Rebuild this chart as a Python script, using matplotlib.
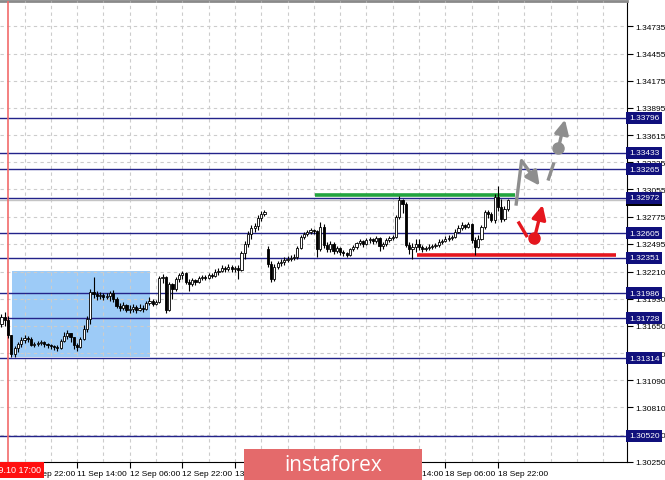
import matplotlib.pyplot as plt
import matplotlib.patches as mpatches
from matplotlib.transforms import blended_transform_factory
import numpy as np

# H1 candles, bar 0 = 10 Sep 15:00 (weekend removed, bar 81 = Monday open)
OPENS = [
    1.31670, 1.31742, 1.31711, 1.31556, 1.31361, 1.31422, 1.31464, 1.31505, 1.31525, 1.31515,
    1.31453, 1.31464, 1.31474, 1.31484, 1.31464, 1.31453, 1.31443, 1.31433, 1.31422, 1.31494,
    1.31546, 1.31577, 1.31536, 1.31453, 1.31433, 1.31515, 1.31618, 1.31721, 1.31999, 1.31979,
    1.31958, 1.31968, 1.31948, 1.31958, 1.31989, 1.31927, 1.31855, 1.31834, 1.31865, 1.31814,
    1.31824, 1.31845, 1.31814, 1.31834, 1.31824, 1.31886, 1.31906, 1.31876, 1.31896, 1.32143,
    1.32154, 1.31814, 1.32082, 1.32030, 1.32133, 1.32174, 1.32195, 1.32102, 1.32082, 1.32123,
    1.32102, 1.32143, 1.32154, 1.32143, 1.32174, 1.32164, 1.32205, 1.32215, 1.32246, 1.32236,
    1.32257, 1.32236, 1.32246, 1.32226, 1.32401, 1.32494, 1.32597, 1.32658, 1.32679, 1.32761,
    1.32803, 1.32442, 1.32288, 1.32133, 1.32257, 1.32298, 1.32308, 1.32329, 1.32339, 1.32349,
    1.32360, 1.32452, 1.32566, 1.32597, 1.32617, 1.32638, 1.32627, 1.32442, 1.32669, 1.32483,
    1.32442, 1.32494, 1.32421, 1.32452, 1.32411, 1.32401, 1.32380, 1.32442, 1.32463, 1.32504,
    1.32524, 1.32494, 1.32535, 1.32545, 1.32524, 1.32555, 1.32473, 1.32494, 1.32535, 1.32555,
    1.32566, 1.32772, 1.32947, 1.32906, 1.32483, 1.32442, 1.32463, 1.32494, 1.32463, 1.32442,
    1.32452, 1.32463, 1.32473, 1.32483, 1.32514, 1.32524, 1.32545, 1.32555, 1.32566, 1.32617,
    1.32658, 1.32689, 1.32669, 1.32700, 1.32535, 1.32463, 1.32545, 1.32669, 1.32823, 1.32803,
    1.32741, 1.32978, 1.32875, 1.32751, 1.32854,
]
HIGHS = [
    1.31773, 1.31793, 1.31752, 1.31556, 1.31443, 1.31484, 1.31536, 1.31556, 1.31546, 1.31536,
    1.31484, 1.31494, 1.31505, 1.31494, 1.31474, 1.31464, 1.31453, 1.31453, 1.31515, 1.31587,
    1.31608, 1.31577, 1.31536, 1.31474, 1.31536, 1.31659, 1.31752, 1.32030, 1.32154, 1.32009,
    1.31999, 1.31989, 1.31989, 1.32009, 1.32020, 1.31948, 1.31886, 1.31896, 1.31876, 1.31865,
    1.31876, 1.31865, 1.31876, 1.31865, 1.31906, 1.31948, 1.31927, 1.31917, 1.32164, 1.32185,
    1.32164, 1.32102, 1.32092, 1.32154, 1.32195, 1.32215, 1.32205, 1.32133, 1.32143, 1.32133,
    1.32164, 1.32174, 1.32174, 1.32195, 1.32195, 1.32236, 1.32246, 1.32277, 1.32267, 1.32288,
    1.32277, 1.32267, 1.32277, 1.32421, 1.32524, 1.32627, 1.32689, 1.32710, 1.32792, 1.32833,
    1.32844, 1.32473, 1.32318, 1.32288, 1.32318, 1.32339, 1.32360, 1.32370, 1.32380, 1.32391,
    1.32473, 1.32586, 1.32617, 1.32638, 1.32658, 1.32648, 1.32638, 1.32720, 1.32700, 1.32514,
    1.32524, 1.32514, 1.32473, 1.32463, 1.32432, 1.32411, 1.32452, 1.32483, 1.32514, 1.32545,
    1.32535, 1.32555, 1.32566, 1.32555, 1.32576, 1.32566, 1.32514, 1.32555, 1.32576, 1.32586,
    1.32792, 1.32988, 1.32957, 1.32926, 1.32514, 1.32504, 1.32545, 1.32545, 1.32483, 1.32473,
    1.32494, 1.32494, 1.32504, 1.32545, 1.32545, 1.32576, 1.32586, 1.32586, 1.32648, 1.32689,
    1.32720, 1.32700, 1.32720, 1.32710, 1.32566, 1.32586, 1.32689, 1.32844, 1.32844, 1.32823,
    1.33009, 1.33091, 1.32957, 1.32885, 1.32957,
]
LOWS = [
    1.31639, 1.31649, 1.31525, 1.31330, 1.31330, 1.31381, 1.31433, 1.31474, 1.31484, 1.31443,
    1.31433, 1.31443, 1.31453, 1.31433, 1.31422, 1.31412, 1.31402, 1.31391, 1.31412, 1.31484,
    1.31515, 1.31484, 1.31412, 1.31391, 1.31422, 1.31505, 1.31587, 1.31670, 1.31937, 1.31917,
    1.31927, 1.31917, 1.31927, 1.31906, 1.31896, 1.31834, 1.31803, 1.31814, 1.31793, 1.31783,
    1.31793, 1.31783, 1.31803, 1.31793, 1.31814, 1.31865, 1.31855, 1.31865, 1.31886, 1.32092,
    1.31783, 1.31803, 1.31927, 1.32009, 1.32102, 1.32133, 1.32082, 1.32009, 1.32061, 1.32071,
    1.32092, 1.32123, 1.32123, 1.32133, 1.32143, 1.32154, 1.32174, 1.32205, 1.32205, 1.32215,
    1.32205, 1.32205, 1.32133, 1.32215, 1.32339, 1.32463, 1.32545, 1.32617, 1.32638, 1.32730,
    1.32782, 1.32257, 1.32102, 1.32112, 1.32236, 1.32267, 1.32277, 1.32308, 1.32318, 1.32329,
    1.32339, 1.32442, 1.32545, 1.32576, 1.32597, 1.32597, 1.32360, 1.32421, 1.32452, 1.32411,
    1.32411, 1.32391, 1.32401, 1.32380, 1.32370, 1.32360, 1.32370, 1.32421, 1.32442, 1.32483,
    1.32463, 1.32483, 1.32504, 1.32494, 1.32504, 1.32421, 1.32442, 1.32473, 1.32514, 1.32535,
    1.32555, 1.32751, 1.32813, 1.32463, 1.32391, 1.32339, 1.32411, 1.32432, 1.32411, 1.32421,
    1.32432, 1.32442, 1.32452, 1.32463, 1.32494, 1.32514, 1.32524, 1.32535, 1.32555, 1.32607,
    1.32638, 1.32648, 1.32658, 1.32504, 1.32380, 1.32452, 1.32535, 1.32648, 1.32761, 1.32720,
    1.32710, 1.32833, 1.32720, 1.32730, 1.32833,
]
CLOSES = [
    1.31742, 1.31711, 1.31556, 1.31361, 1.31422, 1.31464, 1.31505, 1.31525, 1.31515, 1.31453,
    1.31464, 1.31474, 1.31484, 1.31464, 1.31453, 1.31443, 1.31433, 1.31422, 1.31494, 1.31546,
    1.31577, 1.31536, 1.31453, 1.31433, 1.31515, 1.31618, 1.31721, 1.31999, 1.31979, 1.31958,
    1.31968, 1.31948, 1.31958, 1.31989, 1.31927, 1.31855, 1.31834, 1.31865, 1.31814, 1.31824,
    1.31845, 1.31814, 1.31834, 1.31824, 1.31886, 1.31906, 1.31876, 1.31896, 1.32143, 1.32154,
    1.31814, 1.32082, 1.32030, 1.32133, 1.32174, 1.32195, 1.32102, 1.32082, 1.32123, 1.32102,
    1.32143, 1.32154, 1.32143, 1.32174, 1.32164, 1.32205, 1.32215, 1.32246, 1.32236, 1.32257,
    1.32236, 1.32246, 1.32226, 1.32401, 1.32494, 1.32597, 1.32658, 1.32679, 1.32761, 1.32803,
    1.32823, 1.32288, 1.32133, 1.32257, 1.32298, 1.32308, 1.32329, 1.32339, 1.32349, 1.32360,
    1.32452, 1.32566, 1.32597, 1.32617, 1.32638, 1.32627, 1.32442, 1.32669, 1.32483, 1.32442,
    1.32494, 1.32421, 1.32452, 1.32411, 1.32401, 1.32380, 1.32442, 1.32463, 1.32504, 1.32524,
    1.32494, 1.32535, 1.32545, 1.32524, 1.32555, 1.32473, 1.32494, 1.32535, 1.32555, 1.32566,
    1.32772, 1.32947, 1.32906, 1.32483, 1.32442, 1.32463, 1.32494, 1.32463, 1.32442, 1.32452,
    1.32463, 1.32473, 1.32483, 1.32514, 1.32524, 1.32545, 1.32555, 1.32566, 1.32617, 1.32658,
    1.32689, 1.32669, 1.32700, 1.32535, 1.32463, 1.32545, 1.32669, 1.32823, 1.32803, 1.32741,
    1.32978, 1.32875, 1.32751, 1.32854, 1.32951,
]

LEVELS = [1.33796, 1.33433, 1.33265, 1.32972, 1.32605, 1.32351,
          1.31986, 1.31728, 1.31314, 1.30520]
LAST_PRICE = 1.32951
PRICE_TICKS = [1.30250, 1.30530, 1.30810, 1.31090, 1.31370, 1.31650, 1.31930,
               1.32210, 1.32495, 1.32775, 1.33055, 1.33335, 1.33615, 1.33895,
               1.34175, 1.34455, 1.34735]
TIME_BARS = [7, 23, 39, 55, 71, 87, 103, 119, 135, 151]
TIME_LABELS = ["10 Sep 22:00", "11 Sep 14:00", "12 Sep 06:00", "12 Sep 22:00",
               "13 Sep 14:00", "16 Sep 06:00", "16 Sep 22:00", "17 Sep 14:00",
               "18 Sep 06:00", "18 Sep 22:00"]
MARK_BAR = 2
MARK_LABEL = "2019.09.10 17:00"

# range box (bars, prices), resistance / support segments
ZONE_BARS = (3.2, 45.2)
ZONE_PRICES = (1.31330, 1.32215)
RESIST_BARS = (95.4, 156.2)
RESIST_PRICE = 1.32993
SUPPORT_BARS = (126.4, 186.9)
SUPPORT_PRICE = 1.32376

# forecast scribbles
GRAY_UP = [(156.5, 1.32888), (158.2, 1.33352)]
GRAY_DOWN_END = (163.7, 1.33094)
GRAY_DASH = [(166.4, 1.33163), (167.9, 1.33317)]
GRAY_DOT = (169.4, 1.33479)
GRAY_TARGET = (171.4, 1.33774)
RED_DASH = [(157.4, 1.32710), (159.7, 1.32579)]
RED_DOT = (162.1, 1.32552)
RED_TARGET = (164.6, 1.32895)

NAVY = "#23238a"
NAVY_BOX = "#10107c"
GRAY = "#8e8e8e"
RED = "#e5161e"
GREEN = "#22a43e"

plt.rcParams["font.family"] = "Liberation Sans"

fig = plt.figure(figsize=(6.65, 4.81), dpi=100)
ax = fig.add_axes([0, 18 / 481, 627 / 665, 461 / 481])
ax.set_xlim(-0.456, 190.27)
ax.set_ylim(1.30248, 1.34996)

# grid
ax.set_axisbelow(False)
ax.set_xticks(TIME_BARS)
ax.set_xticklabels(TIME_LABELS)
ax.set_xticks(np.arange(7, 191, 8), minor=True)
ax.tick_params(axis="x", which="minor", length=0)
ax.tick_params(axis="x", which="major", length=4, width=0.8, labelsize=6, pad=1.5)
for lbl in ax.get_xticklabels():
    lbl.set_horizontalalignment("left")
ax.yaxis.tick_right()
ax.set_yticks(PRICE_TICKS)
ax.set_yticklabels([f"{p:.5f}" for p in PRICE_TICKS])
ax.tick_params(axis="y", length=4, width=0.8, labelsize=6, pad=2)
ax.grid(True, which="both", axis="x", ls=(0, (3, 3)), color="#cccccc", lw=0.8)
ax.grid(True, which="major", axis="y", ls=(0, (3, 3)), color="#cccccc", lw=0.8)

ax.spines["left"].set_visible(False)
ax.spines["top"].set_color("#8a8a8a")
ax.spines["top"].set_linewidth(2)
ax.spines["right"].set_linewidth(0.8)
ax.spines["bottom"].set_linewidth(0.8)

# range box
ax.add_patch(mpatches.Rectangle((ZONE_BARS[0], ZONE_PRICES[0]),
                                ZONE_BARS[1] - ZONE_BARS[0],
                                ZONE_PRICES[1] - ZONE_PRICES[0],
                                fc="#9dcbf7", ec="none", zorder=1))

# horizontal levels
for lv in LEVELS:
    ax.axhline(lv, color=NAVY, lw=1, zorder=3)
ax.axhline(LAST_PRICE, color="#c4c4c4", lw=1, zorder=2.8)
ax.axvline(MARK_BAR, color="#f26b6b", lw=1.2, zorder=3)

ax.hlines(RESIST_PRICE, *RESIST_BARS, color=GREEN, lw=2.6, zorder=3.5)
ax.hlines(SUPPORT_PRICE, *SUPPORT_BARS, color=RED, lw=2.6, zorder=3.5)

# candles
o = np.array(OPENS); h = np.array(HIGHS); l = np.array(LOWS); c = np.array(CLOSES)
idx = np.arange(len(c))
ax.vlines(idx, l, h, color="black", lw=0.8, zorder=4)
bottoms = np.minimum(o, c)
heights = np.maximum(np.abs(c - o), 0.00003)
colors = ["white" if cc >= oo else "black" for oo, cc in zip(o, c)]
ax.bar(idx, heights, bottom=bottoms, width=0.66, color=colors,
       edgecolor="black", lw=0.6, zorder=5)

# forecast scribbles
aprops = dict(arrowstyle="-|>,head_length=0.7,head_width=0.35", lw=2.4,
              shrinkA=0, shrinkB=0, mutation_scale=12)
ax.plot(*zip(*GRAY_UP), color=GRAY, lw=2.4, solid_capstyle="butt", zorder=6)
ax.annotate("", xy=GRAY_DOWN_END, xytext=GRAY_UP[1],
            arrowprops=dict(color=GRAY, **aprops), zorder=6)
ax.plot(*zip(*GRAY_DASH), color=GRAY, lw=2.4, zorder=6)
ax.plot(*GRAY_DOT, "o", color=GRAY, ms=8, zorder=6)
ax.annotate("", xy=GRAY_TARGET, xytext=GRAY_DOT,
            arrowprops=dict(color=GRAY, **aprops), zorder=6)
ax.plot(*zip(*RED_DASH), color=RED, lw=2.4, zorder=6)
ax.plot(*RED_DOT, "o", color=RED, ms=8, zorder=6)
ax.annotate("", xy=RED_TARGET, xytext=RED_DOT,
            arrowprops=dict(color=RED, **aprops), zorder=6)

# price labels on the right scale
blend = blended_transform_factory(ax.transAxes, ax.transData)
ax.text(1.003, LAST_PRICE, f"{LAST_PRICE:.5f}", transform=blend, ha="left",
        va="center", fontsize=6, color="white", clip_on=False, zorder=9,
        bbox=dict(boxstyle="square,pad=0.3", fc="black", ec="none"))
for lv in LEVELS:
    ax.text(1.003, lv, f"{lv:.5f}", transform=blend, ha="left", va="center",
            fontsize=6, color="white", clip_on=False, zorder=10,
            bbox=dict(boxstyle="square,pad=0.3", fc=NAVY_BOX, ec="none"))

# red time marker label, clipped by the figure edge
fig.text(41 / 665, 10 / 481, MARK_LABEL, ha="right", va="center", fontsize=6.5,
         color="white", zorder=10,
         bbox=dict(boxstyle="square,pad=0.35", fc="#ff1010", ec="none"))

# watermark
fig.patches.append(mpatches.Rectangle((244 / 665, 0), 178 / 665, 31 / 481,
                                      transform=fig.transFigure,
                                      fc="#e46a6b", ec="none", zorder=10))
fig.text(333 / 665, 15 / 481, "instaforex", ha="center", va="center",
         fontsize=15, color="white", family="Open Sans", zorder=11)

fig.savefig("out.png", dpi=100)
